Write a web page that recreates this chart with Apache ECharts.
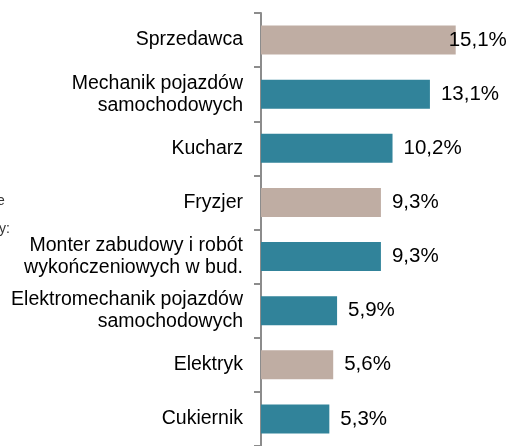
<!DOCTYPE html>
<html>
<head>
<meta charset="utf-8">
<script src="https://cdn.jsdelivr.net/npm/echarts@6/dist/echarts.min.js"></script>
<style>
  html, body { margin: 0; padding: 0; background: #fff; }
  #chart { width: 510px; height: 446px; }
</style>
</head>
<body>
<div id="chart"></div>
<script>
// zawody i udział (%)
const zawody = [
  'Sprzedawca',
  'Mechanik pojazdów\nsamochodowych',
  'Kucharz',
  'Fryzjer',
  'Monter zabudowy i robót\nwykończeniowych w bud.',
  'Elektromechanik pojazdów\nsamochodowych',
  'Elektryk',
  'Cukiernik'
];
const udzial = [15.1, 13.1, 10.2, 9.3, 9.3, 5.9, 5.6, 5.3];
const grupa = ['A', 'B', 'B', 'A', 'B', 'B', 'A', 'B'];

const kolory = { A: '#BFADA3', B: '#31839A' };

const chart = echarts.init(document.getElementById('chart'));

const seriesData = udzial.map((v, i) => {
  const item = { value: v, itemStyle: { color: kolory[grupa[i]] } };
  // pierwsza etykieta wchodzi na słupek (jak w oryginale)
  if (i === 0) item.label = { distance: -7 };
  return item;
});

const option = {
  animation: false,
  textStyle: { fontFamily: 'Liberation Sans, Arial, sans-serif' },
  grid: { left: 261, top: 13, width: 245, height: 437 },
  xAxis: {
    type: 'value',
    min: 0,
    max: 19,
    show: false
  },
  yAxis: {
    type: 'category',
    inverse: true,
    data: zawody,
    axisLine: { show: true, lineStyle: { color: '#8C8C8C', width: 2 } },
    axisTick: { show: true, length: 7, lineStyle: { color: '#8C8C8C', width: 2 } },
    axisLabel: {
      margin: 18,
      fontSize: 19.5,
      lineHeight: 22,
      color: '#000',
      align: 'right'
    }
  },
  graphic: [
    { type: 'text', left: -3, top: 178, style: { text: '.', fontSize: 14, fill: '#333' } },
    { type: 'text', left: -3, top: 194, style: { text: 'e', fontSize: 14, fill: '#333' } },
    { type: 'text', left: -1, top: 222, style: { text: 'y:', fontSize: 14, fill: '#333' } }
  ],
  series: [{
    type: 'bar',
    data: seriesData,
    barWidth: 29,
    label: {
      show: true,
      position: 'right',
      distance: 11,
      fontSize: 20.5,
      color: '#000',
      formatter: p => p.value.toFixed(1).replace('.', ',') + '%'
    }
  }]
};

chart.setOption(option);
</script>
</body>
</html>
